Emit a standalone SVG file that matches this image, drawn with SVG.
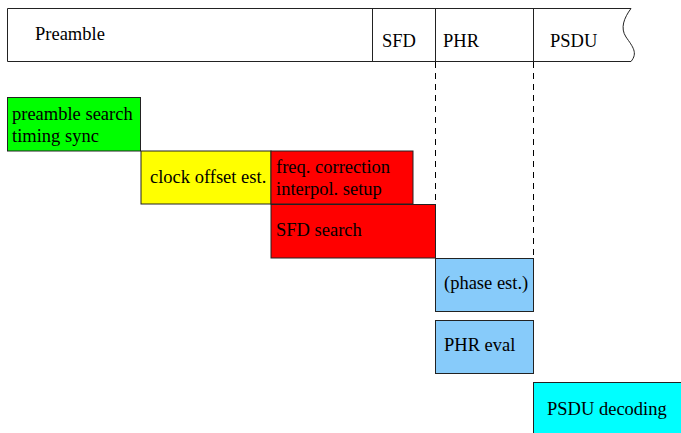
<svg xmlns="http://www.w3.org/2000/svg" width="681" height="433" viewBox="0 0 681 433" font-family="'Liberation Serif', 'Times New Roman', serif">
<style>
text { font-family: "Liberation Serif", "Times New Roman", serif; font-size: 18.5px; fill: #000; }
.box { stroke: #222; stroke-width: 1; }
.frame { fill: #fff; stroke: #222; stroke-width: 1; }
.dash { stroke: #000; stroke-width: 1; stroke-dasharray: 6 5; fill: none; }
</style>
<rect width="681" height="433" fill="#fff"/>
<g id="frame">
  <path class="frame" d="M7.5,8.5 H631 C624,18 620,28 626,37 C633,47 638,53 631,61.5 H7.5 Z"/>
  <line class="frame" x1="372.5" y1="8.5" x2="372.5" y2="61.5"/>
  <line class="frame" x1="435.5" y1="8.5" x2="435.5" y2="61.5"/>
  <line class="frame" x1="533.5" y1="8.5" x2="533.5" y2="61.5"/>
  <text x="35" y="40">Preamble</text>
  <text x="382" y="47">SFD</text>
  <text x="443" y="47">PHR</text>
  <text x="550" y="47">PSDU</text>
</g>
<g id="connectors">
  <line class="dash" x1="435.5" y1="62" x2="435.5" y2="258"/>
  <line class="dash" x1="533.5" y1="62" x2="533.5" y2="258"/>
</g>
<g id="preamble-search">
  <rect class="box" x="7.5" y="97.5" width="133" height="53.5" fill="#00ff00"/>
  <text x="12" y="120">preamble search</text>
  <text x="12" y="142">timing sync</text>
</g>
<g id="clock-offset">
  <rect class="box" x="141" y="151" width="130" height="53" fill="#ffff00"/>
  <text x="150" y="183">clock offset est.</text>
</g>
<g id="freq-correction">
  <rect class="box" x="271" y="151" width="142" height="53" fill="#ff0000"/>
  <text x="276" y="173">freq. correction</text>
  <text x="276" y="195">interpol. setup</text>
</g>
<g id="sfd-search">
  <rect class="box" x="271" y="204.5" width="164.5" height="53.5" fill="#ff0000"/>
  <text x="276" y="236">SFD search</text>
</g>
<g id="phase-est">
  <rect class="box" x="435.5" y="258.5" width="98" height="53" fill="#87cbfa"/>
  <text x="444" y="289">(phase est.)</text>
</g>
<g id="phr-eval">
  <rect class="box" x="435.5" y="320.5" width="98" height="53" fill="#87cbfa"/>
  <text x="444" y="351">PHR eval</text>
</g>
<g id="psdu-decoding">
  <rect class="box" x="533.5" y="382.5" width="150" height="53" fill="#00ffff"/>
  <text x="547" y="415">PSDU decoding</text>
</g>
</svg>
